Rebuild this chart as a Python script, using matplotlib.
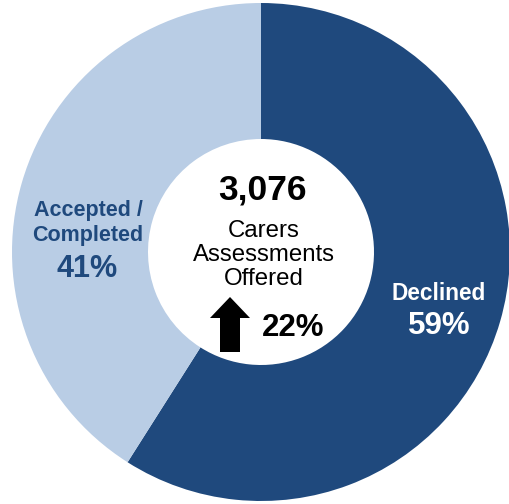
import matplotlib
matplotlib.use("Agg")
import matplotlib.pyplot as plt
from matplotlib.patches import Polygon

plt.rcParams['font.family'] = ['Liberation Sans', 'DejaVu Sans']

# Data
categories = ["Declined", "Accepted /\nCompleted"]
shares = [59, 41]
total_offered = "3,076"
center_label = "Carers\nAssessments\nOffered"
change_label = "22%"

dark = "#1F497D"
light = "#B9CDE5"

W, H = 510, 504
fig = plt.figure(figsize=(W / 100, H / 100), dpi=100)
ax = fig.add_axes([0, 0, 1, 1])

def py(y):
    return H - y

cx, cy = 261, py(252)
R = 249
r_in = 113

ax.pie(shares, colors=[dark, light], startangle=90, counterclock=False,
       center=(cx, cy), radius=R, frame=True,
       wedgeprops=dict(width=R - r_in, edgecolor='none', linewidth=0))
ax.set_xlim(0, W)
ax.set_ylim(0, H)
ax.set_aspect('equal')
ax.axis('off')

# Labels
ax.text(439, py(293), "Declined", color="white", fontsize=16.3, fontweight='bold',
        ha='center', va='center')
ax.text(439, py(326), f"{shares[0]}%", color="white", fontsize=22.5, fontweight='bold',
        ha='center', va='center')
ax.text(88, py(223), categories[1], color=dark, fontsize=15.5, fontweight='bold',
        ha='center', va='center', linespacing=1.2)
ax.text(87, py(269), f"{shares[1]}%", color=dark, fontsize=22, fontweight='bold',
        ha='center', va='center')

# Center text
ax.text(262, py(190), total_offered, color="black", fontsize=25.5, fontweight='bold',
        ha='center', va='center')
ax.text(264, py(255), center_label, color="black", fontsize=17.3,
        ha='center', va='center', linespacing=1.13)
ax.text(293, py(328), change_label, color="black", fontsize=22.5, fontweight='bold',
        ha='center', va='center')

# Up arrow
ax_c, tip, head_base, bottom = 230, py(297), py(318), py(352)
hw, sw = 20, 10
arrow = Polygon([(ax_c, tip), (ax_c + hw, head_base), (ax_c + sw, head_base),
                 (ax_c + sw, bottom), (ax_c - sw, bottom), (ax_c - sw, head_base),
                 (ax_c - hw, head_base)], closed=True, facecolor='black', edgecolor='none')
ax.add_patch(arrow)

fig.savefig("out.png", dpi=100, facecolor='white')
